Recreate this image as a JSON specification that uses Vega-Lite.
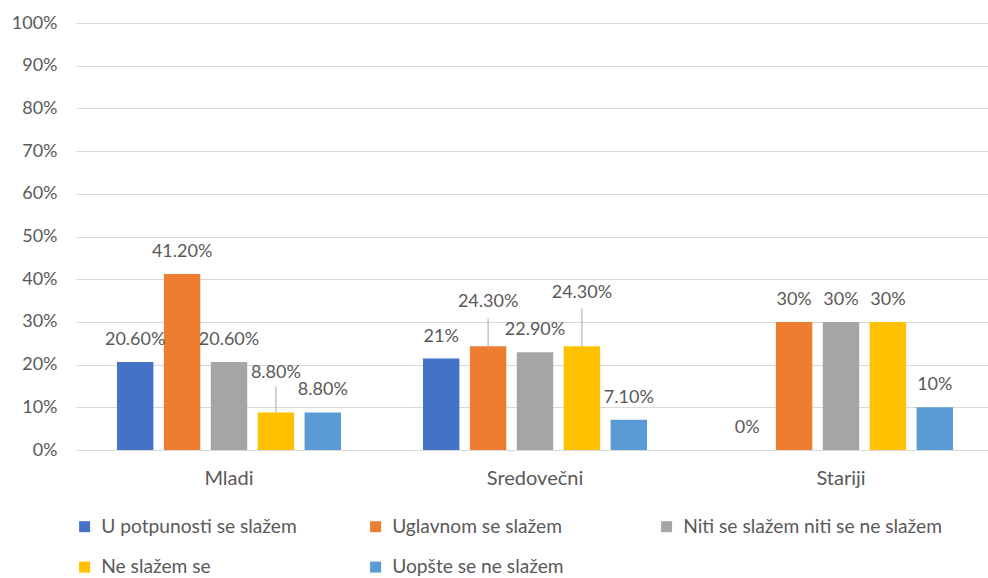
{
  "$schema": "https://vega.github.io/schema/vega-lite/v6.json",
  "width": 912,
  "height": 427,
  "autosize": {"type": "none"},
  "padding": {"left": 76, "top": 23, "right": 0, "bottom": 128},
  "background": "#ffffff",
  "config": {
    "view": {"stroke": null},
    "font": "Lato",
    "text": {"font": "Lato"}
  },
  "data": {
    "values": [
      {"group": "Mladi", "series": "U potpunosti se slažem", "value": 0.206, "label": "20.60%"},
      {"group": "Mladi", "series": "Uglavnom se slažem", "value": 0.412, "label": "41.20%"},
      {"group": "Mladi", "series": "Niti se slažem niti se ne slažem", "value": 0.206, "label": "20.60%"},
      {"group": "Mladi", "series": "Ne slažem se", "value": 0.088, "label": "8.80%"},
      {"group": "Mladi", "series": "Uopšte se ne slažem", "value": 0.088, "label": "8.80%"},
      {"group": "Sredovečni", "series": "U potpunosti se slažem", "value": 0.214, "label": "21%"},
      {"group": "Sredovečni", "series": "Uglavnom se slažem", "value": 0.243, "label": "24.30%"},
      {"group": "Sredovečni", "series": "Niti se slažem niti se ne slažem", "value": 0.229, "label": "22.90%"},
      {"group": "Sredovečni", "series": "Ne slažem se", "value": 0.243, "label": "24.30%"},
      {"group": "Sredovečni", "series": "Uopšte se ne slažem", "value": 0.071, "label": "7.10%"},
      {"group": "Stariji", "series": "U potpunosti se slažem", "value": 0, "label": "0%"},
      {"group": "Stariji", "series": "Uglavnom se slažem", "value": 0.30, "label": "30%"},
      {"group": "Stariji", "series": "Niti se slažem niti se ne slažem", "value": 0.30, "label": "30%"},
      {"group": "Stariji", "series": "Ne slažem se", "value": 0.30, "label": "30%"},
      {"group": "Stariji", "series": "Uopšte se ne slažem", "value": 0.10, "label": "10%"}
    ]
  },
  "encoding": {
    "x": {
      "field": "group", "type": "nominal", "sort": ["Mladi", "Sredovečni", "Stariji"],
      "scale": {"range": [0, 918], "paddingInner": 0, "paddingOuter": 0},
      "axis": {"title": null, "domain": false, "ticks": false, "labelAngle": 0, "labelFontSize": 20, "labelColor": "#595959", "labelPadding": 18, "labelFont": "Lato"}
    },
    "xOffset": {
      "field": "series", "type": "nominal",
      "sort": ["U potpunosti se slažem", "Uglavnom se slažem", "Niti se slažem niti se ne slažem", "Ne slažem se", "Uopšte se ne slažem"],
      "scale": {"paddingInner": 0.224, "paddingOuter": 0.874}
    },
    "y": {
      "field": "value", "type": "quantitative",
      "scale": {"domain": [0, 1], "nice": false},
      "axis": {"title": null, "domain": false, "ticks": false, "format": ".0%", "values": [0, 0.1, 0.2, 0.3, 0.4, 0.5, 0.6, 0.7, 0.8, 0.9, 1], "gridColor": "#D9D9D9", "gridWidth": 1, "labelFontSize": 18, "labelColor": "#595959", "labelPadding": 19, "labelFont": "Lato"}
    }
  },
  "layer": [
    {
      "mark": {"type": "bar"},
      "encoding": {
        "color": {
          "field": "series", "type": "nominal",
          "sort": ["U potpunosti se slažem", "Uglavnom se slažem", "Niti se slažem niti se ne slažem", "Ne slažem se", "Uopšte se ne slažem"],
          "scale": {"domain": ["U potpunosti se slažem", "Uglavnom se slažem", "Niti se slažem niti se ne slažem", "Ne slažem se", "Uopšte se ne slažem"], "range": ["#4472C4", "#ED7D31", "#A5A5A5", "#FFC000", "#5B9BD5"]},
          "legend": {
            "title": null, "orient": "none", "legendX": -1, "legendY": 494, "direction": "horizontal", "columns": 3,
            "gridAlign": "all", "columnPadding": 5, "rowPadding": 20.5, "padding": 0,
            "symbolType": "square", "symbolSize": 121, "symbolStrokeWidth": 0, "symbolOpacity": 1,
            "labelFontSize": 19.2, "labelColor": "#595959", "labelOffset": 7, "labelFont": "Lato", "labelLimit": 400
          }
        }
      }
    },
    {
      "transform": [{"filter": "!(datum.group == 'Mladi' && datum.series == 'Ne slažem se') && !(datum.group == 'Sredovečni' && (datum.series == 'Uglavnom se slažem' || datum.series == 'Ne slažem se'))"}],
      "mark": {"type": "text", "dy": -22, "baseline": "middle", "fontSize": 18, "color": "#595959", "font": "Lato"},
      "encoding": {"text": {"field": "label"}}
    },
    {
      "transform": [{"filter": "datum.group == 'Mladi' && datum.series == 'Ne slažem se'"}],
      "mark": {"type": "text", "dy": -39.5, "baseline": "middle", "fontSize": 18, "color": "#595959", "font": "Lato"},
      "encoding": {"text": {"field": "label"}}
    },
    {
      "transform": [{"filter": "datum.group == 'Mladi' && datum.series == 'Ne slažem se'"}],
      "mark": {"type": "rule", "color": "#A6A6A6", "strokeWidth": 1, "y2Offset": -26},
      "encoding": {"y2": {"field": "value"}}
    },
    {
      "transform": [{"filter": "datum.group == 'Sredovečni' && datum.series == 'Uglavnom se slažem'"}],
      "mark": {"type": "text", "dy": -44.3, "baseline": "middle", "fontSize": 18, "color": "#595959", "font": "Lato"},
      "encoding": {"text": {"field": "label"}}
    },
    {
      "transform": [{"filter": "datum.group == 'Sredovečni' && datum.series == 'Uglavnom se slažem'"}],
      "mark": {"type": "rule", "color": "#A6A6A6", "strokeWidth": 1, "y2Offset": -27.7},
      "encoding": {"y2": {"field": "value"}}
    },
    {
      "transform": [{"filter": "datum.group == 'Sredovečni' && datum.series == 'Ne slažem se'"}],
      "mark": {"type": "text", "dy": -53.3, "baseline": "middle", "fontSize": 18, "color": "#595959", "font": "Lato"},
      "encoding": {"text": {"field": "label"}}
    },
    {
      "transform": [{"filter": "datum.group == 'Sredovečni' && datum.series == 'Ne slažem se'"}],
      "mark": {"type": "rule", "color": "#A6A6A6", "strokeWidth": 1, "y2Offset": -37.7},
      "encoding": {"y2": {"field": "value"}}
    }
  ]
}
